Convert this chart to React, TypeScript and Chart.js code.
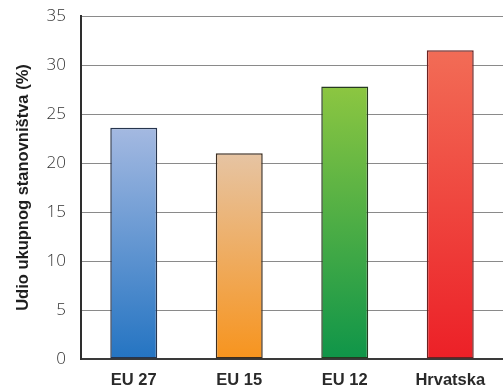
import React, { useEffect, useRef } from "react";
import { Chart, registerables } from "chart.js";

Chart.register(...registerables);

// Share of total population (%) by region
const categories = ["EU 27", "EU 15", "EU 12", "Hrvatska"];
const shareValues = [23.6, 21.0, 27.8, 31.5];
const yTicks = [0, 5, 10, 15, 20, 25, 30, 35];

// Per-bar gradient stops (top, bottom) and outline colours
const gradientTop = ["#a4b9e1", "#e6c4a3", "#8cc641", "#f26c56"];
const gradientBottom = ["#2474c2", "#f7941e", "#0f9549", "#ec2027"];
const outlineColors = ["#27354d", "#3b2d20", "#263a20", "#6a2222"];

const axisTitle = "Udio ukupnog stanovništva (%)";
const boldFamily = "'Liberation Sans', Arial, sans-serif";

export default function App() {
  const canvasRef = useRef<HTMLCanvasElement | null>(null);

  useEffect(() => {
    document.body.style.margin = "0";
    const canvas = canvasRef.current;
    if (!canvas) return;

    const chart = new Chart(canvas, {
      type: "bar",
      data: {
        labels: categories,
        datasets: [
          {
            data: shareValues,
            backgroundColor: (ctx: any) => {
              const c = ctx.chart;
              const area = c.chartArea;
              const i = ctx.dataIndex;
              if (!area || i === undefined) return gradientBottom[0];
              const yScale = c.scales.y;
              const top = yScale.getPixelForValue(shareValues[i]);
              const bottom = yScale.getPixelForValue(0);
              const g = c.ctx.createLinearGradient(0, top, 0, bottom);
              g.addColorStop(0, gradientTop[i]);
              g.addColorStop(1, gradientBottom[i]);
              return g;
            },
            borderColor: outlineColors,
            borderWidth: 1.5,
            borderSkipped: false,
            categoryPercentage: 1,
            barPercentage: 0.445,
          },
        ],
      },
      options: {
        responsive: false,
        animation: false,
        layout: { padding: { top: 16, right: 0, left: 0, bottom: 0 } },
        plugins: {
          legend: { display: false },
          tooltip: { enabled: false },
        },
        scales: {
          x: {
            grid: { display: false, drawTicks: false },
            border: { color: "#3a3a3a", width: 2 },
            ticks: {
              color: "#2a2a2a",
              padding: 12,
              font: { family: boldFamily, size: 16.5, weight: "bold" },
            },
            afterFit: (scale: any) => {
              scale.height = 32;
              scale.paddingLeft = 0;
              scale.paddingRight = 0;
            },
          },
          y: {
            min: 0,
            max: 35,
            afterBuildTicks: (scale: any) => {
              scale.ticks = yTicks.map((v) => ({ value: v }));
            },
            grid: { color: "#8a8a8a", lineWidth: 1, drawTicks: false },
            border: { color: "#2e2e2e", width: 2 },
            ticks: {
              color: "#333333",
              padding: 15,
              font: { family: "'Open Sans', 'DejaVu Sans', sans-serif", size: 17, weight: 300 },
            },
            title: {
              display: true,
              text: axisTitle,
              color: "#1e1e1e",
              padding: { top: 14, bottom: 0 },
              font: { family: boldFamily, size: 16.5, weight: "bold" },
            },
            afterFit: (scale: any) => {
              scale.width = 81;
              scale.paddingTop = 0;
              scale.paddingBottom = 0;
            },
          },
        },
      },
    });

    return () => chart.destroy();
  }, []);

  return (
    <div style={{ width: 503, height: 391, overflow: "hidden", background: "#ffffff" }}>
      <canvas ref={canvasRef} width={503} height={391} style={{ display: "block" }} />
    </div>
  );
}
